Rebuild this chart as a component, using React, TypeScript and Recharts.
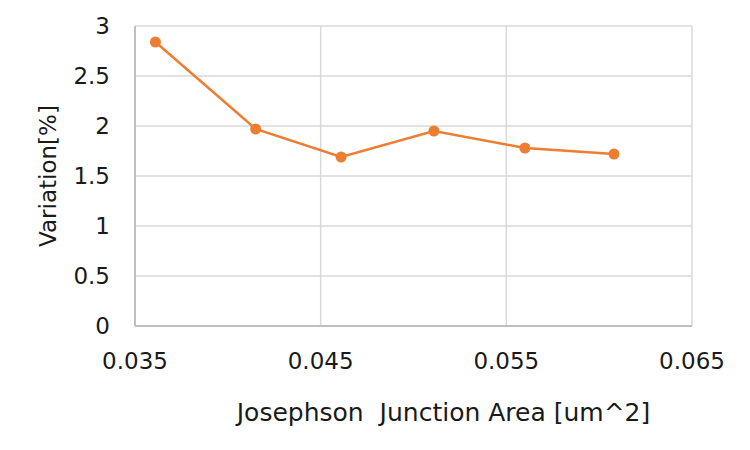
import React from "react";
import { LineChart, Line, XAxis, YAxis, CartesianGrid } from "recharts";

const areas = [0.0361, 0.0415, 0.0461, 0.0511, 0.056, 0.0608];
const variation = [2.84, 1.97, 1.69, 1.95, 1.78, 1.72];
const xTicks = [0.035, 0.045, 0.055, 0.065];
const yTicks = [0, 0.5, 1, 1.5, 2, 2.5, 3];

const data = areas.map((a, i) => ({ area: a, variation: variation[i] }));

const FONT = "'DejaVu Sans', Verdana, sans-serif";
const TEXT = "#1a1a1a";

const YTitle = (props: any) => {
  const vb = props.viewBox || {};
  const cx = vb.x + 48;
  const cy = vb.y + vb.height / 2;
  return (
    <text
      x={cx}
      y={cy}
      transform={`rotate(-90, ${cx}, ${cy})`}
      textAnchor="middle"
      dominantBaseline="central"
      fontFamily={FONT}
      fontSize={23}
      fill={TEXT}
    >
      Variation[%]
    </text>
  );
};

const XTitle = (props: any) => {
  const vb = props.viewBox || {};
  const cx = vb.x + vb.width / 2 + 30;
  return (
    <text
      x={cx}
      y={vb.y + 95}
      textAnchor="middle"
      fontFamily={FONT}
      fontSize={25}
      fill={TEXT}
    >
      {"Josephson\u00a0\u00a0Junction Area [um^2]"}
    </text>
  );
};

export default function App() {
  return (
    <div style={{ position: "absolute", left: 0, top: 0, background: "#fff" }}>
      <LineChart
        width={750}
        height={450}
        data={data}
        margin={{ top: 26, right: 58, bottom: 64, left: 0 }}
      >
        <CartesianGrid stroke="#d9d9d9" strokeWidth={1.5} />
        <XAxis
          dataKey="area"
          type="number"
          domain={[0.035, 0.065]}
          ticks={xTicks}
          allowDataOverflow
          height={60}
          tickLine={false}
          tickSize={0}
          tickMargin={27}
          stroke="#bfbfbf"
          strokeWidth={2}
          tick={{ fill: TEXT, fontSize: 23, fontFamily: FONT }}
          tickFormatter={(v: number) => v.toFixed(3)}
          label={<XTitle />}
        />
        <YAxis
          type="number"
          domain={[0, 3]}
          ticks={yTicks}
          width={135}
          tickLine={false}
          tickSize={0}
          tickMargin={25}
          stroke="#bfbfbf"
          strokeWidth={2}
          tick={{ fill: TEXT, fontSize: 23, fontFamily: FONT }}
          tickFormatter={(v: number) => String(v)}
          label={<YTitle />}
        />
        <Line
          type="linear"
          dataKey="variation"
          stroke="#ED7D31"
          strokeWidth={2.5}
          dot={{ r: 5.5, fill: "#ED7D31", stroke: "#ED7D31", strokeWidth: 0 }}
          isAnimationActive={false}
        />
      </LineChart>
    </div>
  );
}
